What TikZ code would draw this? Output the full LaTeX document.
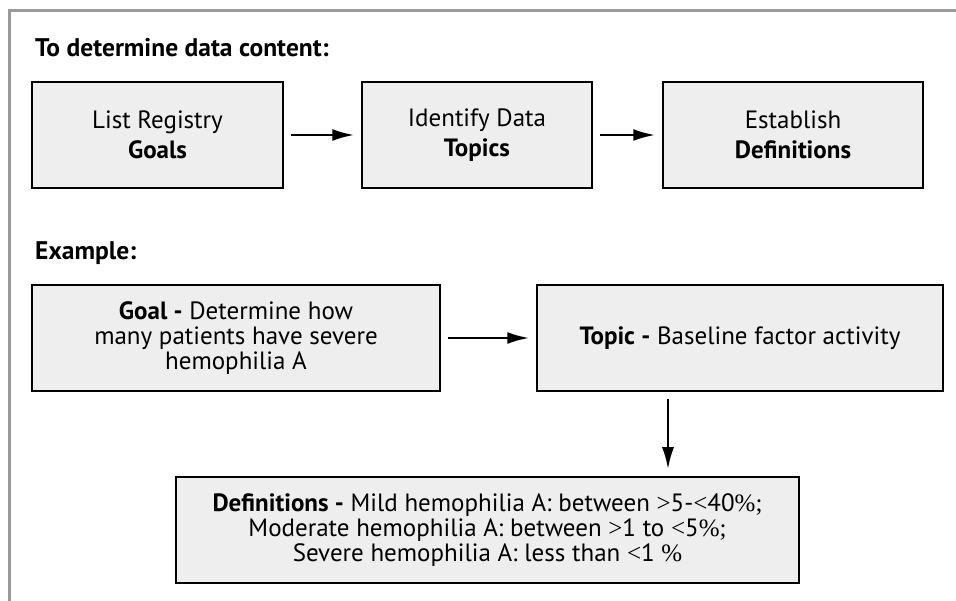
\documentclass[tikz,border=0pt]{standalone}
\usepackage{fontspec}
\setmainfont{PT Sans}
\newfontfamily\symfont{Liberation Serif}
\usetikzlibrary{arrows.meta}
\usetikzlibrary{calc}

\definecolor{boxgray}{HTML}{EEEEEE}
\definecolor{framegray}{HTML}{9A9A9A}

\newcommand{\sy}[1]{{\symfont #1}}

\tikzset{
    stepbox/.style = {draw, line width=1.5pt, fill=boxgray, align=center,
                      inner sep=0pt, minimum height=106pt},
    bigtext/.style = {font=\fontsize{25}{30}\selectfont},
    smalltext/.style = {font=\fontsize{25}{25}\selectfont},
    heading/.style = {anchor=base west, inner sep=0pt,
                      font=\fontsize{25.5}{28}\selectfont\bfseries},
    flow/.style = {line width=2.5pt, -{Latex[length=22pt,width=12pt]},
                   shorten <=7pt, shorten >=7pt}
}

\begin{document}
\begin{tikzpicture}[x=1pt,y=-1pt]
    \useasboundingbox (0,0) rectangle (956,601);

    % Outer frame (top and left only)
    \draw [framegray, line width=3pt] (9,601) -- (9,11) -- (956,11);

    \coordinate (DownX) at (668,0);

    % Steps to determine data content
    \node [heading] (HeadSteps) at (35,57) {To determine data content:};

    \node [stepbox, bigtext, minimum width=251pt] (Goals) at (157.5,135)
        {List Registry\\\textbf{Goals}};
    \node [stepbox, bigtext, minimum width=230pt] (Topics) at (477,135)
        {Identify Data\\\textbf{Topics}};
    \node [stepbox, bigtext, minimum width=260pt] (Defs) at (793,135)
        {Establish\\\textbf{Definitions}};

    \draw [flow] (Goals) -- (Topics);
    \draw [flow] (Topics) -- (Defs);

    % Worked example
    \node [heading] (HeadExample) at (35,260) {Example:};

    \node [stepbox, smalltext, minimum width=408pt] (ExGoal) at (236,338)
        {\textbf{Goal -} Determine how\\many patients have severe\\hemophilia A};
    \node [stepbox, smalltext, minimum width=406pt] (ExTopic) at (740,338)
        {\textbf{Topic -} Baseline factor activity};
    \node [stepbox, smalltext, minimum width=623pt] (ExDefs) at (487.5,530)
        {\textbf{Definitions -} Mild hemophilia A: between \sy{>}5-\sy{<}40\sy{\%;}\\
         Moderate hemophilia A: between \sy{>}1 to \sy{<}5\sy{\%;}\\
         Severe hemophilia A: less than \sy{<}1 \sy{\%}};

    \draw [flow] (ExGoal) -- (ExTopic);
    \draw [flow] (ExTopic.south -| DownX) -- (ExDefs.north -| DownX);
\end{tikzpicture}
\end{document}
